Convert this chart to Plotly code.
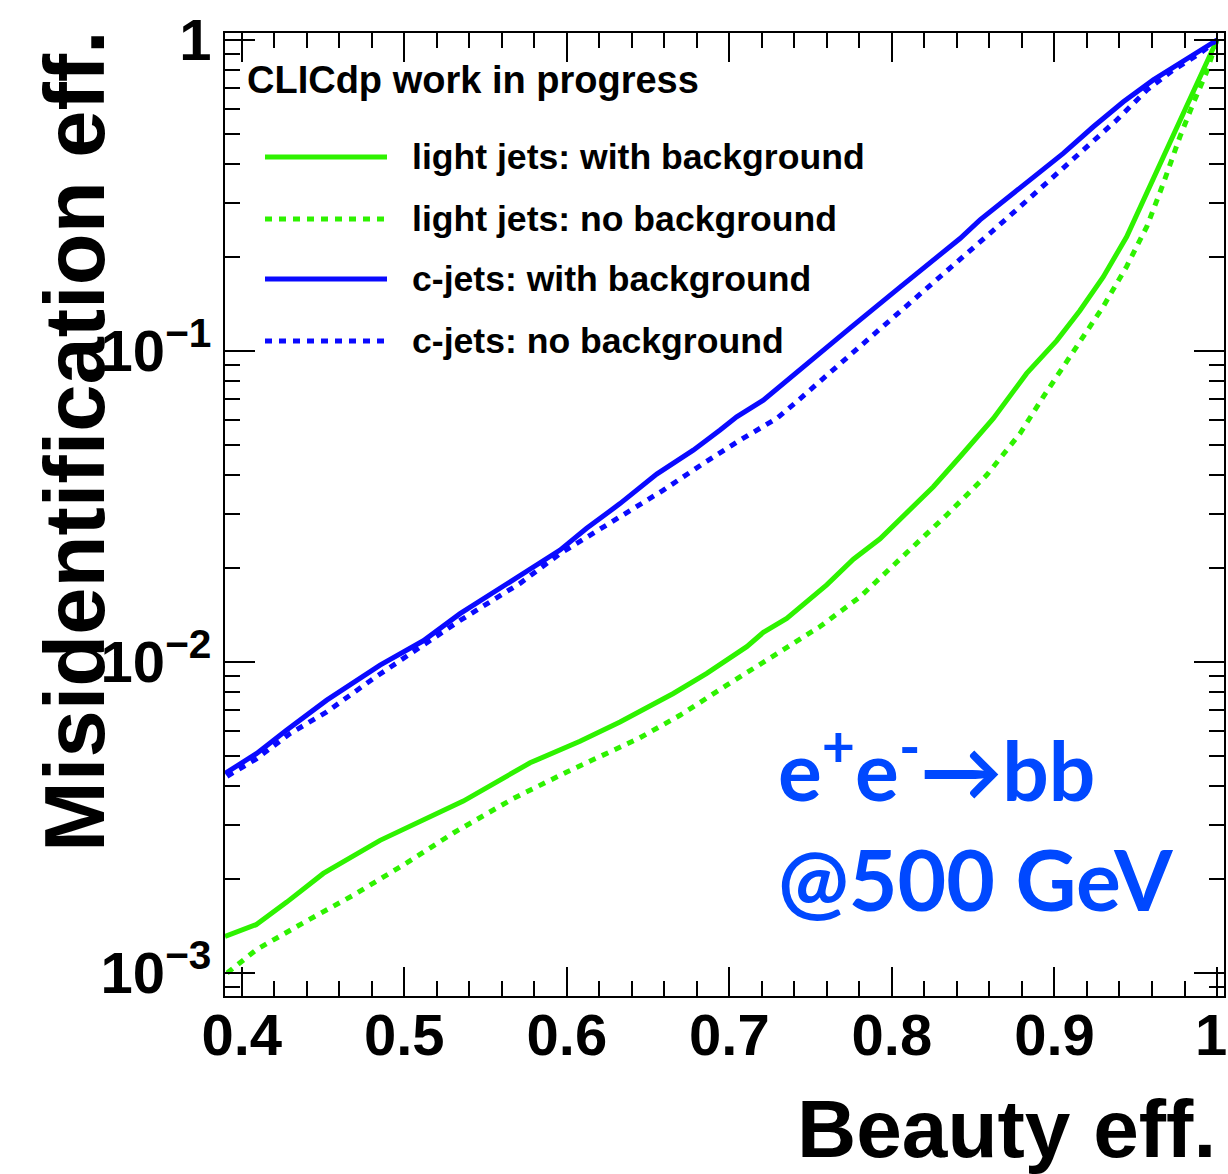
import plotly.graph_objects as go

# ---------------- data ----------------
light_bkg_x = [0.3897, 0.4088, 0.4277, 0.4502, 0.4851, 0.5138, 0.5363, 0.5774, 0.6081, 0.6327,
               0.6655, 0.6861, 0.7107, 0.7209, 0.7353, 0.7599, 0.7763, 0.7927, 0.8091, 0.8255,
               0.8419, 0.8624, 0.8829, 0.9014, 0.9157, 0.9300, 0.9444, 0.9568, 0.9691, 0.9814,
               0.9916, 1.0]
light_bkg_y = [1.31e-3, 1.43e-3, 1.69e-3, 2.09e-3, 2.67e-3, 3.14e-3, 3.57e-3, 4.74e-3, 5.56e-3, 6.41e-3,
               7.92e-3, 9.19e-3, 1.12e-2, 1.245e-2, 1.38e-2, 1.77e-2, 2.14e-2, 2.49e-2, 3.01e-2, 3.66e-2,
               4.57e-2, 6.07e-2, 8.47e-2, 0.108, 0.135, 0.173, 0.233, 0.321, 0.443, 0.610,
               0.801, 1.0]

light_nobkg_x = [0.3910, 0.4092, 0.4379, 0.4687, 0.5015, 0.5302, 0.5671, 0.6000, 0.6440, 0.6696,
                 0.6984, 0.7270, 0.7558, 0.7804, 0.8070, 0.8337, 0.8583, 0.8788, 0.8931, 0.9137,
                 0.9300, 0.9444, 0.9568, 0.9670, 0.9772, 0.9854, 0.9937, 1.0]
light_nobkg_y = [1.00e-3, 1.19e-3, 1.45e-3, 1.78e-3, 2.26e-3, 2.82e-3, 3.64e-3, 4.43e-3, 5.67e-3, 6.74e-3,
                 8.42e-3, 1.04e-2, 1.30e-2, 1.62e-2, 2.18e-2, 2.97e-2, 3.99e-2, 5.43e-2, 7.12e-2, 0.103,
                 0.139, 0.187, 0.251, 0.346, 0.489, 0.626, 0.791, 1.0]

c_bkg_x = [0.3897, 0.4092, 0.4277, 0.4523, 0.4851, 0.5117, 0.5343, 0.5569, 0.5794, 0.5958,
           0.6122, 0.6327, 0.6553, 0.6778, 0.6943, 0.7045, 0.7209, 0.7435, 0.7742, 0.8050,
           0.8419, 0.8542, 0.8747, 0.8931, 0.9054, 0.9239, 0.9424, 0.9608, 0.9793, 1.0]
c_bkg_y = [4.38e-3, 5.08e-3, 6.04e-3, 7.54e-3, 9.77e-3, 1.17e-2, 1.43e-2, 1.70e-2, 2.02e-2, 2.29e-2,
           2.69e-2, 3.23e-2, 4.02e-2, 4.80e-2, 5.57e-2, 6.14e-2, 6.95e-2, 8.75e-2, 0.1185, 0.1605,
           0.230, 0.264, 0.321, 0.382, 0.432, 0.526, 0.633, 0.744, 0.852, 1.0]

c_nobkg_x = [0.3910, 0.4092, 0.4297, 0.4523, 0.4810, 0.5097, 0.5343, 0.5712, 0.5958, 0.6327,
             0.6594, 0.6840, 0.7066, 0.7291, 0.7414, 0.7742, 0.8050, 0.8419, 0.8603, 0.8788,
             0.8993, 0.9178, 0.9383, 0.9568, 0.9731, 0.9896, 1.0]
c_nobkg_y = [4.29e-3, 4.89e-3, 5.89e-3, 6.91e-3, 8.85e-3, 1.12e-2, 1.36e-2, 1.79e-2, 2.23e-2, 2.93e-2,
             3.57e-2, 4.35e-2, 5.17e-2, 6.07e-2, 6.87e-2, 9.70e-2, 0.1334, 0.196, 0.239, 0.291,
             0.363, 0.443, 0.553, 0.690, 0.801, 0.906, 1.0]

series_names = ["light jets: with background", "light jets: no background",
                "c-jets: with background", "c-jets: no background"]

x_tick_vals = [0.4, 0.5, 0.6, 0.7, 0.8, 0.9, 1.0]
x_tick_text = ["0.4", "0.5", "0.6", "0.7", "0.8", "0.9", "1\u2009"]
y_tick_vals = [0.001, 0.01, 0.1, 1.0]
y_tick_text = ["10<sup>\u22123</sup>", "10<sup>\u22122</sup>", "10<sup>\u22121</sup>", "1"]

# ---------------- styling ----------------
W, H = 1228, 1174
L, R, T, B = 225, 4, 33, 178
GREEN = "#2ef200"
BLUE = "#0a0aff"
TEXT_BLUE = "#0048ff"
FONT = "Liberation Sans, Arial, sans-serif"
DOT = "7px,7px"


def pxx(x):
    return (x - L) / (W - L - R)


def pxy(y):
    return (H - B - y) / (H - T - B)


styles = [(GREEN, "solid"), (GREEN, DOT), (BLUE, "solid"), (BLUE, DOT)]
data = [(light_bkg_x, light_bkg_y), (light_nobkg_x, light_nobkg_y),
        (c_bkg_x, c_bkg_y), (c_nobkg_x, c_nobkg_y)]

fig = go.Figure()
for (xs, ys), (col, dash), name in zip(data, styles, series_names):
    fig.add_trace(go.Scatter(x=xs, y=ys, mode="lines", name=name,
                             line=dict(color=col, width=5, dash=dash),
                             showlegend=False))

minor_y = [k * 10 ** e for e in (-4, -3, -2, -1) for k in range(2, 10)]
minor_y = [v for v in minor_y if 8.5e-4 < v < 1.0]

fig.update_layout(
    width=W, height=H,
    margin=dict(l=L, r=R, t=T, b=B, autoexpand=False),
    paper_bgcolor="white", plot_bgcolor="white",
    font=dict(family=FONT, color="black"),
    xaxis=dict(range=[0.3897, 1.0043], tickvals=x_tick_vals, ticktext=x_tick_text,
               ticks="inside", ticklen=29, tickwidth=2, tickcolor="black",
               showline=True, linewidth=2, linecolor="black", mirror="allticks",
               showgrid=False, zeroline=False, ticklabeloverflow="allow",
               ticklabelstandoff=-13, automargin=False,
               tickfont=dict(size=58, family=FONT, weight="bold"),
               minor=dict(ticks="inside", ticklen=15, tickwidth=2, tickcolor="black",
                          tick0=0.4, dtick=0.02, showgrid=False)),
    yaxis=dict(type="log", range=[-3.074, 0.0225], tickvals=y_tick_vals, ticktext=y_tick_text,
               ticks="inside", ticklen=30, tickwidth=2, tickcolor="black",
               showline=True, linewidth=2, linecolor="black", mirror="allticks",
               showgrid=False, zeroline=False, ticklabeloverflow="allow", automargin=False,
               tickfont=dict(size=58, family=FONT, weight="bold"),
               minor=dict(ticks="inside", ticklen=15, tickwidth=2, tickcolor="black",
                          tickvals=minor_y, showgrid=False)),
)

annotations = []
shapes = []
# axis titles
annotations.append(dict(text="Misidentification eff.", textangle=-90,
                        xref="paper", yref="paper", x=pxx(75), y=pxy(28),
                        xanchor="center", yanchor="top", showarrow=False,
                        font=dict(size=85, family=FONT, weight="bold", color="black")))
annotations.append(dict(text="Beauty eff.", xref="paper", yref="paper",
                        x=pxx(1218), y=pxy(1128), xanchor="right", yanchor="middle",
                        showarrow=False,
                        font=dict(size=82, family=FONT, weight="bold", color="black")))
# header
annotations.append(dict(text="CLICdp work in progress", xref="paper", yref="paper",
                        x=pxx(245), y=pxy(80), xanchor="left", yanchor="middle",
                        showarrow=False,
                        font=dict(size=38, family=FONT, weight="bold", color="black")))
# manual legend
legend_y = [157, 219, 279, 341]
for (col, dash), name, ly in zip(styles, series_names, legend_y):
    shapes.append(dict(type="line", xref="paper", yref="paper",
                       x0=pxx(265), x1=pxx(387), y0=pxy(ly), y1=pxy(ly),
                       line=dict(color=col, width=5, dash=dash)))
    annotations.append(dict(text=name, xref="paper", yref="paper",
                            x=pxx(410), y=pxy(ly), xanchor="left", yanchor="middle",
                            showarrow=False,
                            font=dict(size=35.6, family=FONT, weight="bold", color="black")))
# process label
annotations.append(dict(text="e<sup>+</sup>e<sup>-</sup>\u2192bb", xref="paper", yref="paper",
                        x=pxx(776), y=pxy(764), xanchor="left", yanchor="middle",
                        showarrow=False,
                        font=dict(size=82, family="Lato, sans-serif", weight="bold",
                                  color=TEXT_BLUE)))
annotations.append(dict(text="@500 GeV", xref="paper", yref="paper",
                        x=pxx(776), y=pxy(878), xanchor="left", yanchor="middle",
                        showarrow=False,
                        font=dict(size=84, family="Lato, sans-serif", weight="bold",
                                  color=TEXT_BLUE)))

fig.update_layout(annotations=annotations, shapes=shapes)
fig.write_html("out.html")
